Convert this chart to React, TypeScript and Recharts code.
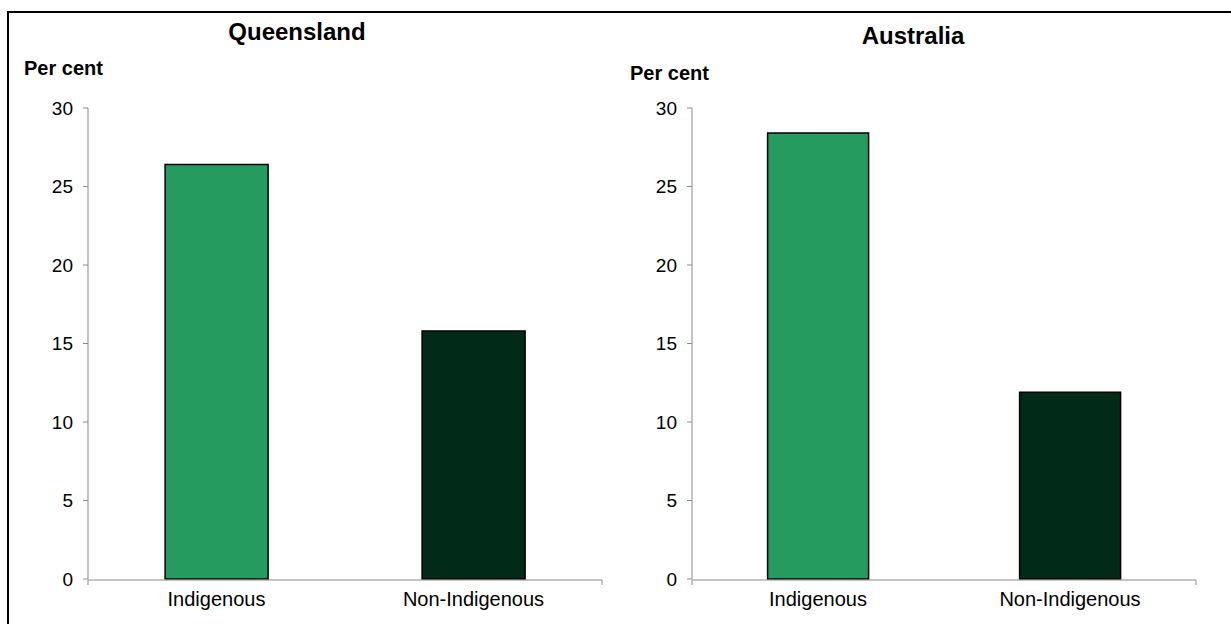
import { BarChart, Bar, XAxis, YAxis, Cell } from 'recharts';

const categories = ['Indigenous', 'Non-Indigenous'];
const queenslandValues = [26.4, 15.8];
const australiaValues = [28.4, 11.9];
const yTicks = [0, 5, 10, 15, 20, 25, 30];
const boundaryTicks = [0, 1, 2];

const barColors = ['#269B60', '#022A18'];
const axisColor = '#8a8a8a';
const font = '"Liberation Sans", Arial, sans-serif';

interface PanelProps {
  values: number[];
  left: number;
  width: number;
  yAxisWidth: number;
  marginLeft: number;
  marginRight: number;
}

function Panel({ values, left, width, yAxisWidth, marginLeft, marginRight }: PanelProps) {
  const data = categories.map((name, i) => ({ name, value: values[i] }));
  return (
    <div style={{ position: 'absolute', left, top: 0 }}>
      <BarChart
        width={width}
        height={624}
        data={data}
        barCategoryGap="30%"
        margin={{ top: 108, right: marginRight, left: marginLeft, bottom: 4 }}
      >
        {/* category labels, kept thin so the axis line sits right under the plot */}
        <XAxis
          dataKey="name"
          height={1}
          tickLine={false}
          axisLine={false}
          tickSize={5}
          tickMargin={8}
          tick={{ fill: '#000', fontSize: 20, fontFamily: font }}
        />
        {/* axis line with tick marks between categories */}
        <XAxis
          xAxisId="grid"
          type="number"
          domain={[0, 2]}
          ticks={boundaryTicks}
          allowDataOverflow
          height={40}
          tickSize={5}
          tickFormatter={() => ''}
          stroke={axisColor}
          tickLine={{ stroke: axisColor }}
        />
        <YAxis
          domain={[0, 30]}
          ticks={yTicks}
          width={yAxisWidth}
          tickSize={5}
          tickMargin={10}
          stroke={axisColor}
          tickLine={{ stroke: axisColor }}
          tick={{ fill: '#000', fontSize: 19, fontFamily: font }}
          interval={0}
        />
        <Bar dataKey="value" stroke="#000" strokeWidth={1.5} isAnimationActive={false}>
          {data.map((d, i) => (
            <Cell key={d.name} fill={barColors[i]} />
          ))}
        </Bar>
      </BarChart>
    </div>
  );
}

const textStyle = { position: 'absolute' as const, fontFamily: font, fontWeight: 'bold' as const, color: '#000', whiteSpace: 'nowrap' as const };

export default function App() {
  return (
    <div
      style={{
        position: 'fixed',
        left: 0,
        top: 0,
        width: 1231,
        height: 624,
        overflow: 'hidden',
        background: '#fff',
      }}
    >
      <div
        style={{
          position: 'absolute',
          left: 7,
          top: 11,
          width: 1250,
          height: 640,
          border: '2px solid #000',
        }}
      />
      <Panel values={queenslandValues} left={0} width={615} yAxisWidth={80} marginLeft={8} marginRight={13} />
      <Panel values={australiaValues} left={615} width={616} yAxisWidth={77} marginLeft={0} marginRight={35} />
      <div style={{ ...textStyle, left: 197, width: 200, textAlign: 'center', top: 18, fontSize: 24 }}>
        Queensland
      </div>
      <div style={{ ...textStyle, left: 813, width: 200, textAlign: 'center', top: 22, fontSize: 24 }}>
        Australia
      </div>
      <div style={{ ...textStyle, left: 24, top: 57, fontSize: 20 }}>Per cent</div>
      <div style={{ ...textStyle, left: 630, top: 62, fontSize: 20 }}>Per cent</div>
    </div>
  );
}
